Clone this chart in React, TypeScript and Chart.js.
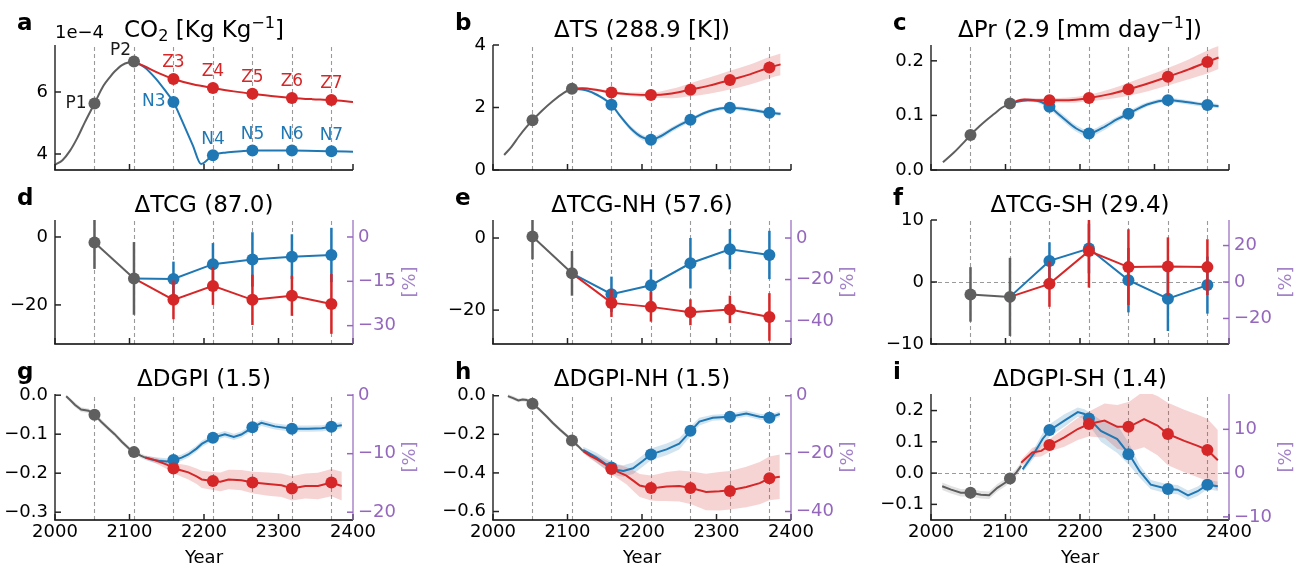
import React, { useEffect, useRef } from 'react';
import { Chart, registerables } from 'chart.js';
Chart.register(...registerables);

const FONT = '"DejaVu Sans", "Liberation Sans", sans-serif';
const RED = '#d62728';
const BLUE = '#1f77b4';
const GRAY = '#5f5f5f';
const PURPLE = '#9467bd';
const RED_BAND = 'rgba(214,39,40,0.2)';
const BLUE_BAND = 'rgba(31,119,180,0.2)';
const GRAY_BAND = 'rgba(95,95,95,0.18)';

// ---------- shared ----------
const PT_YEARS = [2053, 2106, 2159, 2212, 2265, 2318, 2371];
const P_YEARS = [2053, 2106];
const Z_YEARS = [2159, 2212, 2265, 2318, 2371];
const ERR_YEARS = [2106, 2159, 2212, 2265, 2318, 2371];
const X_TICKS = [2000, 2100, 2200, 2300, 2400];

// ---------- a: CO2 (1e-4 Kg/Kg) ----------
const A_GRAY_X = [2000, 2010, 2020, 2030, 2040, 2053, 2065, 2074, 2080, 2090, 2100, 2106];
const A_GRAY_Y = [3.65, 3.8, 4.1, 4.52, 5.02, 5.63, 6.2, 6.49, 6.66, 6.87, 6.96, 6.98];
const A_RED_X = [2106, 2120, 2140, 2159, 2185, 2212, 2240, 2265, 2290, 2318, 2345, 2371, 2400];
const A_RED_Y = [6.98, 6.83, 6.6, 6.42, 6.25, 6.13, 6.02, 5.94, 5.87, 5.81, 5.77, 5.74, 5.68];
const A_BLUE_X = [2106, 2120, 2135, 2150, 2159, 2170, 2185, 2196, 2212, 2230, 2250, 2265, 2318, 2371, 2400];
const A_BLUE_Y = [6.98, 6.8, 6.44, 5.98, 5.68, 5.1, 4.28, 3.68, 3.96, 4.05, 4.09, 4.11, 4.11, 4.09, 4.07];
const A_P = [5.63, 6.98];
const A_Z = [6.42, 6.13, 5.94, 5.81, 5.74];
const A_N = [5.68, 3.96, 4.11, 4.11, 4.09];
const A_P_LABELS = ['P1', 'P2'];
const A_Z_LABELS = ['Z3', 'Z4', 'Z5', 'Z6', 'Z7'];
const A_N_LABELS = ['N3', 'N4', 'N5', 'N6', 'N7'];

// ---------- b: dTS ----------
const B_GRAY_X = [2015, 2025, 2035, 2045, 2053, 2065, 2080, 2095, 2106];
const B_GRAY_Y = [0.48, 0.75, 1.08, 1.38, 1.59, 1.88, 2.2, 2.47, 2.6];
const B_RED_X = [2106, 2120, 2140, 2159, 2185, 2212, 2240, 2265, 2290, 2318, 2345, 2371, 2386];
const B_RED_Y = [2.6, 2.62, 2.56, 2.48, 2.42, 2.4, 2.45, 2.57, 2.7, 2.88, 3.06, 3.28, 3.38];
const B_RED_SD = [0.02, 0.03, 0.04, 0.05, 0.06, 0.08, 0.15, 0.21, 0.26, 0.3, 0.32, 0.34, 0.35];
const B_BLUE_X = [2106, 2125, 2140, 2159, 2170, 2185, 2200, 2212, 2225, 2240, 2265, 2290, 2318, 2345, 2371, 2386];
const B_BLUE_Y = [2.6, 2.55, 2.4, 2.09, 1.75, 1.33, 1.05, 0.97, 1.08, 1.3, 1.61, 1.88, 1.99, 1.93, 1.83, 1.8];
const B_BLUE_SD = [0.02, 0.04, 0.05, 0.06, 0.07, 0.08, 0.09, 0.09, 0.09, 0.08, 0.07, 0.06, 0.06, 0.06, 0.06, 0.06];
const B_P = [1.59, 2.6];
const B_Z = [2.48, 2.4, 2.57, 2.88, 3.28];
const B_N = [2.09, 0.97, 1.61, 1.99, 1.83];

// ---------- c: dPr ----------
const C_GRAY_X = [2016, 2030, 2045, 2053, 2065, 2075, 2085, 2095, 2106];
const C_GRAY_Y = [0.014, 0.031, 0.052, 0.064, 0.08, 0.092, 0.103, 0.114, 0.122];
const C_RED_X = [2106, 2125, 2140, 2159, 2185, 2212, 2240, 2265, 2290, 2318, 2345, 2371, 2386];
const C_RED_Y = [0.122, 0.129, 0.128, 0.128, 0.128, 0.132, 0.139, 0.148, 0.158, 0.171, 0.184, 0.198, 0.206];
const C_RED_SD = [0.002, 0.003, 0.003, 0.004, 0.005, 0.006, 0.009, 0.012, 0.014, 0.016, 0.018, 0.021, 0.021];
const C_BLUE_X = [2106, 2130, 2145, 2159, 2175, 2195, 2212, 2230, 2250, 2265, 2290, 2318, 2345, 2371, 2386];
const C_BLUE_Y = [0.122, 0.128, 0.126, 0.116, 0.098, 0.076, 0.067, 0.077, 0.093, 0.103, 0.12, 0.128, 0.124, 0.119, 0.117];
const C_BLUE_SD = [0.002, 0.003, 0.004, 0.005, 0.006, 0.006, 0.006, 0.006, 0.005, 0.005, 0.004, 0.004, 0.004, 0.004, 0.004];
const C_P = [0.064, 0.122];
const C_Z = [0.128, 0.132, 0.148, 0.171, 0.198];
const C_N = [0.116, 0.067, 0.103, 0.128, 0.119];

// ---------- d: dTCG ----------
const D_GRAY = [-1.6, -12.2];
const D_GRAY_ERR = [7.8, 10.7];
const D_BLUE = [-12.2, -12.35, -8.0, -6.6, -5.8, -5.3];
const D_BLUE_ERR = [null, 5.1, 6.2, 8.0, 6.6, 8.0];
const D_RED = [-12.2, -18.5, -14.4, -18.5, -17.3, -19.7];
const D_RED_ERR = [null, 5.7, 5.6, 7.4, 5.9, 8.8];

// ---------- e: dTCG-NH ----------
const E_GRAY = [0.4, -9.8];
const E_GRAY_ERR = [6.3, 6.2];
const E_BLUE = [-9.8, -15.6, -13.1, -7.0, -3.1, -4.7];
const E_BLUE_ERR = [null, 4.9, 4.4, 7.0, 5.6, 6.7];
const E_RED = [-9.8, -18.0, -19.1, -20.6, -19.8, -21.9];
const E_RED_ERR = [null, 3.9, 4.1, 3.6, 3.8, 6.6];

// ---------- f: dTCG-SH ----------
const F_GRAY = [-2.0, -2.4];
const F_GRAY_ERR = [4.4, 6.3];
const F_BLUE = [-2.4, 3.4, 5.4, 0.3, -2.7, -0.5];
const F_BLUE_ERR = [null, 3.0, 4.0, 5.2, 5.2, 4.6];
const F_RED = [-2.4, -0.3, 5.0, 2.4, 2.5, 2.4];
const F_RED_ERR = [null, 3.7, 5.9, 6.1, 4.7, 4.5];

// ---------- g: dDGPI ----------
const G_GRAY_X = [2015, 2020, 2027, 2035, 2045, 2053, 2062, 2072, 2080, 2090, 2100, 2106, 2115, 2121];
const G_GRAY_Y = [-0.003, -0.012, -0.025, -0.037, -0.04, -0.05, -0.068, -0.086, -0.1, -0.12, -0.138, -0.146, -0.155, -0.16];
const G_GRAY_SD = [0.004, 0.005, 0.006, 0.006, 0.006, 0.006, 0.006, 0.006, 0.006, 0.006, 0.006, 0.006, 0.006, 0.006];
const G_RED_X = [2121, 2130, 2143, 2150, 2160, 2170, 2179, 2190, 2197, 2212, 2222, 2233, 2250, 2266, 2286, 2304, 2318, 2336, 2353, 2371, 2385];
const G_RED_Y = [-0.16, -0.164, -0.173, -0.178, -0.188, -0.193, -0.198, -0.208, -0.216, -0.22, -0.222, -0.216, -0.218, -0.224, -0.228, -0.231, -0.239, -0.233, -0.233, -0.224, -0.233];
const G_RED_SD = [0.004, 0.006, 0.009, 0.011, 0.013, 0.016, 0.018, 0.02, 0.022, 0.023, 0.024, 0.025, 0.026, 0.028, 0.03, 0.03, 0.031, 0.032, 0.034, 0.035, 0.037];
const G_BLUE_X = [2121, 2130, 2139, 2150, 2160, 2170, 2179, 2190, 2197, 2212, 2228, 2240, 2250, 2266, 2277, 2295, 2318, 2340, 2358, 2371, 2385];
const G_BLUE_Y = [-0.16, -0.165, -0.168, -0.17, -0.166, -0.16, -0.152, -0.137, -0.125, -0.109, -0.1, -0.107, -0.101, -0.082, -0.071, -0.08, -0.086, -0.086, -0.085, -0.081, -0.077];
const G_BLUE_SD = [0.006, 0.007, 0.008, 0.008, 0.008, 0.008, 0.008, 0.008, 0.008, 0.008, 0.008, 0.008, 0.008, 0.008, 0.008, 0.008, 0.008, 0.008, 0.008, 0.008, 0.008];
const G_P = [-0.05, -0.146];
const G_Z = [-0.188, -0.22, -0.224, -0.239, -0.224];
const G_N = [-0.166, -0.109, -0.082, -0.086, -0.081];

// ---------- h: dDGPI-NH ----------
const H_GRAY_X = [2020, 2027, 2034, 2040, 2045, 2053, 2062, 2072, 2080, 2090, 2100, 2106, 2114, 2121];
const H_GRAY_Y = [-0.002, -0.012, -0.024, -0.02, -0.022, -0.041, -0.07, -0.108, -0.14, -0.176, -0.21, -0.232, -0.26, -0.287];
const H_GRAY_SD = [0.01, 0.01, 0.01, 0.01, 0.01, 0.01, 0.01, 0.01, 0.01, 0.01, 0.01, 0.01, 0.01, 0.01];
const H_RED_X = [2121, 2130, 2139, 2150, 2160, 2170, 2179, 2190, 2197, 2212, 2222, 2233, 2250, 2266, 2286, 2304, 2318, 2340, 2358, 2371, 2385];
const H_RED_Y = [-0.287, -0.31, -0.329, -0.355, -0.38, -0.398, -0.414, -0.445, -0.465, -0.478, -0.475, -0.47, -0.468, -0.478, -0.499, -0.495, -0.49, -0.473, -0.453, -0.428, -0.42];
const H_RED_SD = [0.01, 0.015, 0.02, 0.025, 0.03, 0.038, 0.045, 0.055, 0.06, 0.065, 0.07, 0.075, 0.08, 0.085, 0.095, 0.1, 0.1, 0.105, 0.11, 0.113, 0.115];
const H_BLUE_X = [2121, 2130, 2139, 2150, 2160, 2167, 2175, 2188, 2201, 2212, 2233, 2250, 2266, 2277, 2295, 2318, 2340, 2358, 2371, 2385];
const H_BLUE_Y = [-0.28, -0.3, -0.321, -0.35, -0.372, -0.385, -0.39, -0.376, -0.338, -0.304, -0.278, -0.249, -0.181, -0.134, -0.114, -0.109, -0.092, -0.109, -0.114, -0.095];
const H_BLUE_SD = [0.015, 0.02, 0.025, 0.028, 0.03, 0.03, 0.03, 0.03, 0.03, 0.03, 0.03, 0.03, 0.025, 0.02, 0.015, 0.015, 0.015, 0.015, 0.015, 0.015];
const H_P = [-0.041, -0.232];
const H_Z = [-0.38, -0.478, -0.478, -0.494, -0.428];
const H_N = [-0.372, -0.304, -0.181, -0.109, -0.114];

// ---------- i: dDGPI-SH ----------
const I_GRAY_X = [2015, 2027, 2040, 2053, 2067, 2078, 2089, 2100, 2106, 2114, 2121];
const I_GRAY_Y = [-0.042, -0.053, -0.063, -0.063, -0.069, -0.071, -0.047, -0.03, -0.017, 0.0, 0.023];
const I_GRAY_SD = [0.012, 0.012, 0.012, 0.012, 0.012, 0.012, 0.012, 0.012, 0.012, 0.012, 0.012];
const I_RED_X = [2121, 2136, 2148, 2160, 2179, 2197, 2212, 2233, 2250, 2266, 2286, 2304, 2318, 2340, 2358, 2371, 2385];
const I_RED_Y = [0.033, 0.066, 0.071, 0.09, 0.114, 0.141, 0.157, 0.168, 0.148, 0.148, 0.173, 0.152, 0.125, 0.103, 0.087, 0.074, 0.041];
const I_RED_SD = [0.01, 0.015, 0.018, 0.02, 0.03, 0.035, 0.04, 0.055, 0.07, 0.08, 0.09, 0.095, 0.1, 0.1, 0.1, 0.1, 0.097];
const I_BLUE_X = [2123, 2139, 2150, 2160, 2179, 2197, 2206, 2212, 2228, 2250, 2266, 2280, 2295, 2318, 2331, 2345, 2358, 2371, 2385];
const I_BLUE_Y = [0.012, 0.066, 0.11, 0.138, 0.168, 0.195, 0.189, 0.175, 0.135, 0.109, 0.06, 0.006, -0.037, -0.051, -0.053, -0.071, -0.058, -0.037, -0.042];
const I_BLUE_SD = [0.01, 0.015, 0.018, 0.02, 0.02, 0.015, 0.015, 0.02, 0.035, 0.045, 0.035, 0.02, 0.015, 0.015, 0.015, 0.015, 0.015, 0.015, 0.015];
const I_P = [-0.063, -0.017];
const I_Z = [0.09, 0.157, 0.148, 0.125, 0.074];
const I_N = [0.138, 0.175, 0.06, -0.051, -0.037];

// ---------- layout ----------
const AX_L = [55, 493, 931];
const AX_W = 298;
const AX_T = [45, 220, 394];
const AX_B = [170, 344, 520];
const LW = 55;
const RW = 70;
const PT = 45;
const PB = [20, 20, 49];
const TICK_FS = 18;
const LABEL_FS = 17;
const TITLE_FS = 23;

type Seg = { t: string; s?: 'sub' | 'sup' };
type Spec = {
  id: string; letter: string; title: Seg[]; col: number; row: number;
  yMin: number; yMax: number; yTicks: number[]; dec: number;
  base?: number; rTicks?: number[]; zero?: boolean; offsetText?: string;
  datasets: any[];
  labels?: { x: number[]; y: number[]; text: string[]; color: string; place: string[] }[];
};

const pts = (x: number[], y: (number | null)[]) => x.map((v, i) => ({ x: v, y: y[i] }));

function band(x: number[], y: number[], sd: number[], color: string, smooth: boolean) {
  const common = { borderWidth: 0, borderColor: 'transparent', pointRadius: 0, order: 50, tension: 0,
    cubicInterpolationMode: smooth ? 'monotone' : 'default', xAxisID: 'x', yAxisID: 'y' };
  return [
    { ...common, data: pts(x, y.map((v, i) => v + sd[i])), fill: '+1', backgroundColor: color },
    { ...common, data: pts(x, y.map((v, i) => v - sd[i])), fill: false },
  ];
}
function line(x: number[], y: number[], color: string, order: number, smooth: boolean) {
  return { data: pts(x, y), borderColor: color, borderWidth: 2, pointRadius: 0, fill: false, order,
    tension: 0, cubicInterpolationMode: smooth ? 'monotone' : 'default', xAxisID: 'x', yAxisID: 'y' };
}
function marks(x: number[], y: number[], color: string, order: number) {
  return { data: pts(x, y), showLine: false, pointRadius: 6, pointBackgroundColor: color,
    pointBorderColor: color, pointBorderWidth: 0, order, xAxisID: 'x', yAxisID: 'y' };
}
function errLine(x: number[], y: number[], err: (number | null)[], color: string, order: number, hideFirst: boolean) {
  return { data: pts(x, y), err, borderColor: color, borderWidth: 2, tension: 0, fill: false, order,
    pointRadius: x.map((_, i) => (hideFirst && i === 0 ? 0 : 6)), pointBackgroundColor: color,
    pointBorderColor: color, pointBorderWidth: 0, xAxisID: 'x', yAxisID: 'y' };
}

const SPECS: Spec[] = [
  {
    id: 'a', letter: 'a', col: 0, row: 0,
    title: [{ t: 'CO' }, { t: '2', s: 'sub' }, { t: ' [Kg Kg' }, { t: '\u22121', s: 'sup' }, { t: ']' }],
    yMin: 3.484, yMax: 7.516, yTicks: [4, 6], dec: 0, offsetText: '1e\u22124',
    datasets: [
      line(A_GRAY_X, A_GRAY_Y, GRAY, 20, true),
      line(A_BLUE_X, A_BLUE_Y, BLUE, 19, true),
      line(A_RED_X, A_RED_Y, RED, 18, true),
      marks(P_YEARS, A_P, GRAY, 3),
      marks(Z_YEARS, A_N, BLUE, 2),
      marks(Z_YEARS, A_Z, RED, 1),
    ],
    labels: [
      { x: P_YEARS, y: A_P, text: A_P_LABELS, color: '#1a1a1a', place: ['left', 'upleft'] },
      { x: Z_YEARS, y: A_Z, text: A_Z_LABELS, color: RED, place: ['up', 'up', 'up', 'up', 'up'] },
      { x: Z_YEARS, y: A_N, text: A_N_LABELS, color: BLUE, place: ['left', 'up', 'up', 'up', 'up'] },
    ],
  },
  {
    id: 'b', letter: 'b', col: 1, row: 0, title: [{ t: '\u0394TS (288.9 [K])' }],
    yMin: 0, yMax: 4, yTicks: [0, 2, 4], dec: 0,
    datasets: [
      ...band(B_RED_X, B_RED_Y, B_RED_SD, RED_BAND, true),
      ...band(B_BLUE_X, B_BLUE_Y, B_BLUE_SD, BLUE_BAND, true),
      line(B_GRAY_X, B_GRAY_Y, GRAY, 20, true),
      line(B_BLUE_X, B_BLUE_Y, BLUE, 19, true),
      line(B_RED_X, B_RED_Y, RED, 18, true),
      marks(P_YEARS, B_P, GRAY, 3),
      marks(Z_YEARS, B_N, BLUE, 2),
      marks(Z_YEARS, B_Z, RED, 1),
    ],
  },
  {
    id: 'c', letter: 'c', col: 2, row: 0,
    title: [{ t: '\u0394Pr (2.9 [mm day' }, { t: '\u22121', s: 'sup' }, { t: '])' }],
    yMin: 0, yMax: 0.229, yTicks: [0, 0.1, 0.2], dec: 1,
    datasets: [
      ...band(C_RED_X, C_RED_Y, C_RED_SD, RED_BAND, true),
      ...band(C_BLUE_X, C_BLUE_Y, C_BLUE_SD, BLUE_BAND, true),
      line(C_GRAY_X, C_GRAY_Y, GRAY, 20, true),
      line(C_BLUE_X, C_BLUE_Y, BLUE, 19, true),
      line(C_RED_X, C_RED_Y, RED, 18, true),
      marks(P_YEARS, C_P, GRAY, 3),
      marks(Z_YEARS, C_N, BLUE, 2),
      marks(Z_YEARS, C_Z, RED, 1),
    ],
  },
  {
    id: 'd', letter: 'd', col: 0, row: 1, title: [{ t: '\u0394TCG (87.0)' }],
    yMin: -31.5, yMax: 5.0, yTicks: [0, -20], dec: 0, base: 87.0, rTicks: [0, -15, -30],
    datasets: [
      errLine(ERR_YEARS, D_BLUE, D_BLUE_ERR, BLUE, 3, true),
      errLine(ERR_YEARS, D_RED, D_RED_ERR, RED, 2, true),
      errLine(P_YEARS, D_GRAY, D_GRAY_ERR, GRAY, 1, false),
    ],
  },
  {
    id: 'e', letter: 'e', col: 1, row: 1, title: [{ t: '\u0394TCG-NH (57.6)' }],
    yMin: -29.4, yMax: 5.0, yTicks: [0, -20], dec: 0, base: 57.6, rTicks: [0, -20, -40],
    datasets: [
      errLine(ERR_YEARS, E_BLUE, E_BLUE_ERR, BLUE, 3, true),
      errLine(ERR_YEARS, E_RED, E_RED_ERR, RED, 2, true),
      errLine(P_YEARS, E_GRAY, E_GRAY_ERR, GRAY, 1, false),
    ],
  },
  {
    id: 'f', letter: 'f', col: 2, row: 1, title: [{ t: '\u0394TCG-SH (29.4)' }],
    yMin: -10, yMax: 10, yTicks: [10, 0, -10], dec: 0, base: 29.4, rTicks: [20, 0, -20], zero: true,
    datasets: [
      errLine(ERR_YEARS, F_BLUE, F_BLUE_ERR, BLUE, 3, true),
      errLine(ERR_YEARS, F_RED, F_RED_ERR, RED, 2, true),
      errLine(P_YEARS, F_GRAY, F_GRAY_ERR, GRAY, 1, false),
    ],
  },
  {
    id: 'g', letter: 'g', col: 0, row: 2, title: [{ t: '\u0394DGPI (1.5)' }],
    yMin: -0.32, yMax: 0.003, yTicks: [0, -0.1, -0.2, -0.3], dec: 1, base: 1.5, rTicks: [0, -10, -20],
    datasets: [
      ...band(G_RED_X, G_RED_Y, G_RED_SD, RED_BAND, false),
      ...band(G_BLUE_X, G_BLUE_Y, G_BLUE_SD, BLUE_BAND, false),
      ...band(G_GRAY_X, G_GRAY_Y, G_GRAY_SD, GRAY_BAND, false),
      line(G_GRAY_X, G_GRAY_Y, GRAY, 20, false),
      line(G_BLUE_X, G_BLUE_Y, BLUE, 19, false),
      line(G_RED_X, G_RED_Y, RED, 18, false),
      marks(P_YEARS, G_P, GRAY, 3),
      marks(Z_YEARS, G_N, BLUE, 2),
      marks(Z_YEARS, G_Z, RED, 1),
    ],
  },
  {
    id: 'h', letter: 'h', col: 1, row: 2, title: [{ t: '\u0394DGPI-NH (1.5)' }],
    yMin: -0.644, yMax: 0.009, yTicks: [0, -0.2, -0.4, -0.6], dec: 1, base: 1.5, rTicks: [0, -20, -40],
    datasets: [
      ...band(H_RED_X, H_RED_Y, H_RED_SD, RED_BAND, false),
      ...band(H_BLUE_X, H_BLUE_Y, H_BLUE_SD, BLUE_BAND, false),
      ...band(H_GRAY_X, H_GRAY_Y, H_GRAY_SD, GRAY_BAND, false),
      line(H_GRAY_X, H_GRAY_Y, GRAY, 20, false),
      line(H_BLUE_X, H_BLUE_Y, BLUE, 19, false),
      line(H_RED_X, H_RED_Y, RED, 18, false),
      marks(P_YEARS, H_P, GRAY, 3),
      marks(Z_YEARS, H_N, BLUE, 2),
      marks(Z_YEARS, H_Z, RED, 1),
    ],
  },
  {
    id: 'i', letter: 'i', col: 2, row: 2, title: [{ t: '\u0394DGPI-SH (1.4)' }],
    yMin: -0.15, yMax: 0.253, yTicks: [0.2, 0.1, 0, -0.1], dec: 1, base: 1.4, rTicks: [10, 0, -10], zero: true,
    datasets: [
      ...band(I_RED_X, I_RED_Y, I_RED_SD, RED_BAND, false),
      ...band(I_BLUE_X, I_BLUE_Y, I_BLUE_SD, BLUE_BAND, false),
      ...band(I_GRAY_X, I_GRAY_Y, I_GRAY_SD, GRAY_BAND, false),
      line(I_GRAY_X, I_GRAY_Y, GRAY, 20, false),
      line(I_BLUE_X, I_BLUE_Y, BLUE, 19, false),
      line(I_RED_X, I_RED_Y, RED, 18, false),
      marks(P_YEARS, I_P, GRAY, 3),
      marks(Z_YEARS, I_N, BLUE, 2),
      marks(Z_YEARS, I_Z, RED, 1),
    ],
  },
];

function fmt(v: number, d: number) {
  const s = Math.abs(v) < 1e-9 ? (0).toFixed(d) : Number(v).toFixed(d);
  return s.replace('-', '\u2212');
}

function drawRich(ctx: CanvasRenderingContext2D, segs: Seg[], cx: number, cy: number, size: number) {
  const parts = segs.map((s) => {
    const fs = s.s ? size * 0.7 : size;
    ctx.font = `${fs}px ${FONT}`;
    return { ...s, fs, w: ctx.measureText(s.t).width };
  });
  const total = parts.reduce((a, p) => a + p.w, 0);
  let x = cx - total / 2;
  const base = cy + size * 0.36;
  ctx.textAlign = 'left';
  ctx.textBaseline = 'alphabetic';
  for (const p of parts) {
    ctx.font = `${p.fs}px ${FONT}`;
    const dy = p.s === 'sub' ? size * 0.18 : p.s === 'sup' ? -size * 0.42 : 0;
    ctx.fillText(p.t, x, base + dy);
    x += p.w;
  }
}

function decor(spec: Spec) {
  return {
    id: 'decor',
    beforeDatasetsDraw(chart: any) {
      const { ctx, chartArea: a, scales } = chart;
      const xs = scales.x, ys = scales.y;
      ctx.save();
      ctx.strokeStyle = '#9a9a9a';
      ctx.lineWidth = 1.1;
      ctx.setLineDash([4, 3]);
      for (const yr of PT_YEARS) {
        const px = Math.round(xs.getPixelForValue(yr)) + 0.5;
        ctx.beginPath(); ctx.moveTo(px, a.bottom); ctx.lineTo(px, a.top); ctx.stroke();
      }
      if (spec.zero) {
        const py = Math.round(ys.getPixelForValue(0)) + 0.5;
        ctx.beginPath(); ctx.moveTo(a.left, py); ctx.lineTo(a.right, py); ctx.stroke();
      }
      ctx.restore();
    },
    beforeDatasetDraw(chart: any, args: any) {
      const ds: any = chart.data.datasets[args.index];
      if (!ds.err) return;
      const { ctx, chartArea: a } = chart;
      const xs = chart.scales.x, ys = chart.scales.y;
      ctx.save();
      ctx.beginPath();
      ctx.rect(a.left, a.top, a.right - a.left, a.bottom - a.top);
      ctx.clip();
      ctx.strokeStyle = ds.borderColor;
      ctx.lineWidth = 2.5;
      ds.data.forEach((p: any, i: number) => {
        const e = ds.err[i];
        if (e == null) return;
        const px = xs.getPixelForValue(p.x);
        ctx.beginPath();
        ctx.moveTo(px, ys.getPixelForValue(p.y - e));
        ctx.lineTo(px, ys.getPixelForValue(p.y + e));
        ctx.stroke();
      });
      ctx.restore();
    },
    afterDraw(chart: any) {
      const { ctx, chartArea: a, scales } = chart;
      const xs = scales.x, ys = scales.y;
      ctx.save();
      ctx.setLineDash([]);
      // spines
      ctx.lineWidth = 1.6;
      ctx.strokeStyle = '#3a3a3a';
      ctx.beginPath(); ctx.moveTo(a.left, a.top); ctx.lineTo(a.left, a.bottom); ctx.stroke();
      ctx.strokeStyle = '#000';
      ctx.beginPath(); ctx.moveTo(a.left - 0.8, a.bottom); ctx.lineTo(a.right, a.bottom); ctx.stroke();
      // inward ticks
      ctx.lineWidth = 1.5;
      ctx.strokeStyle = '#222';
      for (const v of spec.yTicks) {
        const py = ys.getPixelForValue(v);
        ctx.beginPath(); ctx.moveTo(a.left, py); ctx.lineTo(a.left + 6, py); ctx.stroke();
      }
      for (const v of X_TICKS) {
        const px = xs.getPixelForValue(v);
        ctx.beginPath(); ctx.moveTo(px, a.bottom); ctx.lineTo(px, a.bottom - 6); ctx.stroke();
      }
      if (spec.base) {
        const y2 = scales.y2;
        ctx.strokeStyle = 'rgba(148,103,189,0.75)';
        ctx.lineWidth = 1.6;
        ctx.beginPath(); ctx.moveTo(a.right, a.top); ctx.lineTo(a.right, a.bottom); ctx.stroke();
        ctx.lineWidth = 1.5;
        ctx.strokeStyle = PURPLE;
        for (const v of spec.rTicks!) {
          const py = y2.getPixelForValue(v);
          ctx.beginPath(); ctx.moveTo(a.right, py); ctx.lineTo(a.right - 6, py); ctx.stroke();
        }
        ctx.save();
        ctx.translate(a.right + 57, (a.top + a.bottom) / 2);
        ctx.rotate(-Math.PI / 2);
        ctx.fillStyle = '#a383c8';
        ctx.font = `${TICK_FS}px ${FONT}`;
        ctx.textAlign = 'center';
        ctx.textBaseline = 'middle';
        ctx.fillText('[%]', 0, 0);
        ctx.restore();
      }
      // title
      ctx.fillStyle = '#000';
      drawRich(ctx, spec.title, (a.left + a.right) / 2, a.top - 16, TITLE_FS);
      // letter
      ctx.font = `bold ${TITLE_FS}px ${FONT}`;
      ctx.textAlign = 'left';
      ctx.textBaseline = 'middle';
      ctx.fillText(spec.letter, a.left - 38, a.top - 21);
      // offset text
      if (spec.offsetText) {
        ctx.font = `${TICK_FS}px ${FONT}`;
        ctx.textAlign = 'left';
        ctx.textBaseline = 'middle';
        ctx.fillText(spec.offsetText, a.left, a.top - 12);
      }
      // point labels
      if (spec.labels) {
        ctx.font = `${LABEL_FS}px ${FONT}`;
        ctx.textBaseline = 'middle';
        for (const g of spec.labels) {
          ctx.fillStyle = g.color;
          g.text.forEach((t, i) => {
            const px = xs.getPixelForValue(g.x[i]);
            const py = ys.getPixelForValue(g.y[i]);
            const pl = g.place[i];
            if (pl === 'left') { ctx.textAlign = 'right'; ctx.fillText(t, px - 8, py); }
            else if (pl === 'upleft') { ctx.textAlign = 'right'; ctx.fillText(t, px - 3, py - 11); }
            else { ctx.textAlign = 'center'; ctx.fillText(t, px, py - 16); }
          });
        }
      }
      ctx.restore();
    },
  };
}

function buildConfig(spec: Spec): any {
  const tickFont = { family: FONT, size: TICK_FS };
  const scales: any = {
    x: {
      type: 'linear', min: 2000, max: 2400,
      afterBuildTicks: (s: any) => { s.ticks = X_TICKS.map((v) => ({ value: v })); },
      afterFit: (s: any) => { s.height = PB[spec.row]; },
      grid: { display: false, drawTicks: false }, border: { display: false },
      ticks: { display: spec.row === 2, font: tickFont, color: '#000', padding: 2, maxRotation: 0, autoSkip: false,
        callback: (v: any) => String(v) },
      title: { display: spec.row === 2, text: 'Year', font: tickFont, color: '#000', padding: { top: 0, bottom: 0 } },
    },
    y: {
      type: 'linear', position: 'left', min: spec.yMin, max: spec.yMax,
      afterBuildTicks: (s: any) => { s.ticks = spec.yTicks.map((v) => ({ value: v })); },
      afterFit: (s: any) => { s.width = LW; },
      grid: { display: false, drawTicks: false }, border: { display: false },
      ticks: { font: tickFont, color: '#000', padding: 7, autoSkip: false, callback: (v: any) => fmt(v, spec.dec) },
    },
  };
  if (spec.base) {
    scales.y2 = {
      type: 'linear', position: 'right',
      min: (spec.yMin / spec.base) * 100, max: (spec.yMax / spec.base) * 100,
      afterBuildTicks: (s: any) => { s.ticks = spec.rTicks!.map((v) => ({ value: v })); },
      afterFit: (s: any) => { s.width = RW; },
      grid: { display: false, drawTicks: false }, border: { display: false },
      ticks: { font: tickFont, color: PURPLE, padding: 5, autoSkip: false, callback: (v: any) => fmt(v, 0) },
    };
  }
  return {
    type: 'line',
    data: { datasets: spec.datasets },
    options: {
      animation: false, responsive: false, devicePixelRatio: 1, events: [],
      layout: { padding: { top: PT, left: 0, bottom: 0, right: spec.base ? 0 : RW } },
      plugins: { legend: { display: false }, tooltip: { enabled: false }, title: { display: false } },
      scales,
    },
    plugins: [decor(spec)],
  };
}

function Panel({ spec }: { spec: Spec }) {
  const ref = useRef<HTMLCanvasElement>(null);
  const left = AX_L[spec.col] - LW;
  const top = AX_T[spec.row] - PT;
  const width = LW + AX_W + RW;
  const height = PT + (AX_B[spec.row] - AX_T[spec.row]) + PB[spec.row];
  useEffect(() => {
    const chart = new Chart(ref.current as HTMLCanvasElement, buildConfig(spec));
    return () => chart.destroy();
  }, []);
  return (
    <canvas ref={ref} width={width} height={height}
      style={{ position: 'absolute', left, top, width, height }} />
  );
}

export default function App() {
  return (
    <div style={{ position: 'absolute', left: 0, top: 0, width: 1303, height: 569, background: '#fff', overflow: 'hidden' }}>
      {SPECS.map((s) => <Panel key={s.id} spec={s} />)}
    </div>
  );
}
